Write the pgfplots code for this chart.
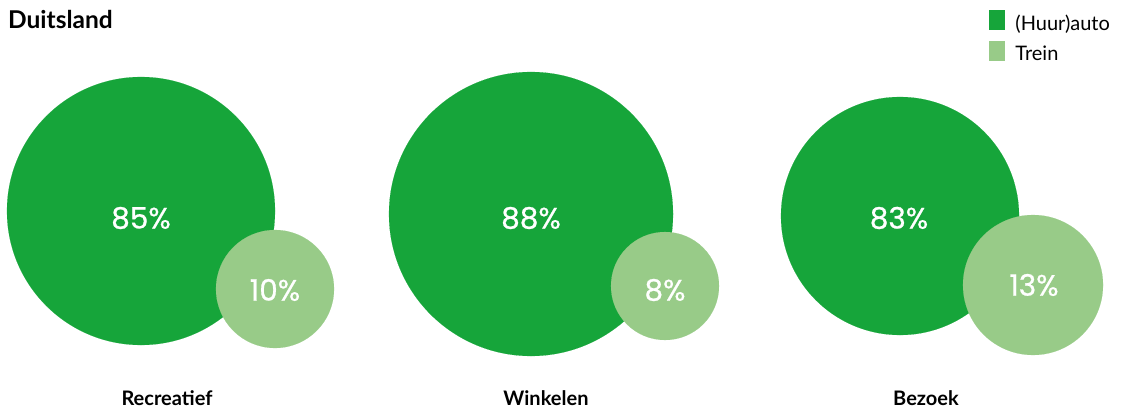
\documentclass[border=0pt]{standalone}
\usepackage{pgfplots}
\pgfplotsset{compat=1.18}
\usepackage{fontspec}
\setmainfont{Lato}
\newfontfamily\pfont[FakeBold=0.7]{Poppins}
\definecolor{cdark}{RGB}{22,165,58}
\definecolor{clight}{RGB}{152,203,136}
\begin{document}
\begin{tikzpicture}
\begin{axis}[
  x=1pt, y=1pt, xmin=0, xmax=1123, ymin=0, ymax=409, y dir=reverse,
  hide axis, clip=false, scale only axis,
  legend style={at={(axis cs:989,10)}, anchor=north west, draw=none, fill=none,
    inner sep=0pt, outer sep=0pt, row sep=7pt, cells={anchor=west},
    /tikz/every odd column/.append style={column sep=9pt},
    font=\fontsize{20}{20}\selectfont},
  legend image code/.code={\fill[#1] (0pt,-6pt) rectangle (15pt,13pt);},
]
\path (rel axis cs:0,0) rectangle (rel axis cs:1,1);
\addplot[scatter, only marks, mark=*, color=cdark, fill=cdark, mark options={draw=cdark, fill=cdark, line width=0.1pt},
  visualization depends on={\thisrow{r}\as\rad},
  scatter/use mapped color={draw=cdark,fill=cdark},
  scatter/@pre marker code/.append style={/tikz/mark size=\rad}] table {
x y r
141 211 134
531 214 142
900 216 119
};
\addlegendentry{(Huur)auto}
\addplot[scatter, only marks, mark=*, color=clight, fill=clight, mark options={draw=clight, fill=clight, line width=0.1pt},
  visualization depends on={\thisrow{r}\as\rad},
  scatter/use mapped color={draw=clight,fill=clight},
  scatter/@pre marker code/.append style={/tikz/mark size=\rad}] table {
x y r
275 289 59
665 286 54
1033 285 70
};
\addlegendentry{Trein}
\addplot[forget plot, only marks, mark=none, nodes near coords={\pgfplotspointmeta\%},
  point meta=explicit symbolic,
  nodes near coords style={anchor=center, text=white, inner sep=0pt, font=\pfont\fontsize{29.5}{29.5}\selectfont}] table[meta=label] {
x y label
141 218 85
531 218 88
899 218 83
275 290 10
665 290 8
1034 285 13
};
\node[anchor=base west, inner sep=0pt, font=\bfseries\fontsize{24.5}{24.5}\selectfont] at (axis cs:8,29) {Duitsland};
\node[anchor=base, inner sep=0pt, font=\bfseries\fontsize{20}{20}\selectfont] at (axis cs:167,405) {Recreatief};
\node[anchor=base, inner sep=0pt, font=\bfseries\fontsize{20}{20}\selectfont] at (axis cs:546,405) {Winkelen};
\node[anchor=base, inner sep=0pt, font=\bfseries\fontsize{20}{20}\selectfont] at (axis cs:926,405) {Bezoek};
\end{axis}
\end{tikzpicture}
\end{document}
